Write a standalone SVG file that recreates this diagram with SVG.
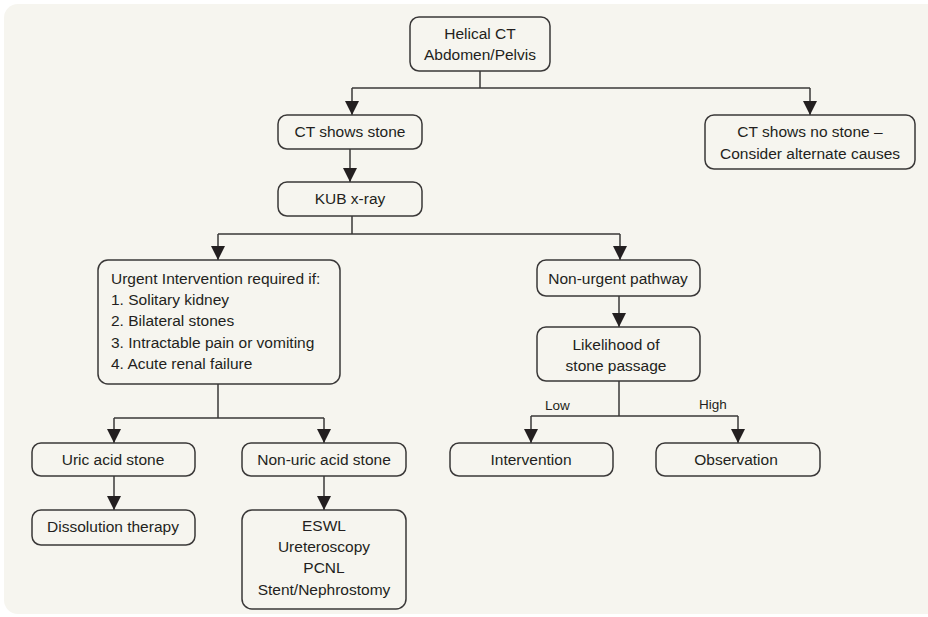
<svg xmlns="http://www.w3.org/2000/svg" width="928" height="617" viewBox="0 0 928 617">
<defs>
<marker id="ah" markerUnits="userSpaceOnUse" markerWidth="14" markerHeight="16" viewBox="0 0 14 16" refX="14" refY="7" orient="auto">
<path d="M0,0 L14,7 L0,14 Z" fill="#231f20"/>
</marker>
</defs>
<style>
.bg{fill:#f6f5ef}
.box{fill:#f6f5ef;stroke:#3a3838;stroke-width:1.5}
.t{font-family:"Liberation Sans Narrow","Liberation Sans",Arial,sans-serif;font-size:15.5px;fill:#231f20}
.c{text-anchor:middle}
.s{font-size:13.5px}
.ln{fill:none;stroke:#3a3838;stroke-width:1.5}
</style>
<rect width="928" height="617" fill="#ffffff"/>
<rect class="bg" x="4" y="4" width="940" height="610" rx="14"/>
<g id="connectors">
<path class="ln" d="M480,71 V88"/>
<path class="ln" d="M352,88 H810"/>
<path class="ln" d="M352,88 V115" marker-end="url(#ah)"/>
<path class="ln" d="M810,88 V115" marker-end="url(#ah)"/>
<path class="ln" d="M350,149 V182" marker-end="url(#ah)"/>
<path class="ln" d="M352,216 V234 M218,234 H620"/>
<path class="ln" d="M218,234 V260" marker-end="url(#ah)"/>
<path class="ln" d="M620,234 V260" marker-end="url(#ah)"/>
<path class="ln" d="M619,296 V327" marker-end="url(#ah)"/>
<path class="ln" d="M619,381 V416 M531,416 H738"/>
<path class="ln" d="M531,416 V443" marker-end="url(#ah)"/>
<path class="ln" d="M738,416 V443" marker-end="url(#ah)"/>
<path class="ln" d="M218,384 V418 M114,418 H324"/>
<path class="ln" d="M114,418 V443" marker-end="url(#ah)"/>
<path class="ln" d="M324,418 V443" marker-end="url(#ah)"/>
<path class="ln" d="M114,476 V510" marker-end="url(#ah)"/>
<path class="ln" d="M324,476 V510" marker-end="url(#ah)"/>
<text class="t s" x="545" y="410">Low</text>
<text class="t s" x="699" y="409">High</text>
</g>
<g id="helical">
<rect class="box" x="410" y="17" width="140" height="54" rx="9"/>
<text class="t c" x="480" y="39">Helical CT</text>
<text class="t c" x="480" y="60">Abdomen/Pelvis</text>
</g>
<g id="stone">
<rect class="box" x="278" y="115" width="144" height="34" rx="9"/>
<text class="t c" x="350" y="137">CT shows stone</text>
</g>
<g id="nostone">
<rect class="box" x="705" y="115" width="210" height="54" rx="9"/>
<text class="t c" x="810" y="137">CT shows no stone –</text>
<text class="t c" x="810" y="159">Consider alternate causes</text>
</g>
<g id="kub">
<rect class="box" x="278" y="182" width="144" height="34" rx="9"/>
<text class="t c" x="350" y="204">KUB x-ray</text>
</g>
<g id="urgent">
<rect class="box" x="98" y="260" width="242" height="124" rx="10"/>
<text class="t" x="111" y="284">Urgent Intervention required if:</text>
<text class="t" x="111" y="305">1. Solitary kidney</text>
<text class="t" x="111" y="326">2. Bilateral stones</text>
<text class="t" x="111" y="348">3. Intractable pain or vomiting</text>
<text class="t" x="111" y="369">4. Acute renal failure</text>
</g>
<g id="nonurgent">
<rect class="box" x="537" y="260" width="163" height="36" rx="9"/>
<text class="t c" x="618" y="284">Non-urgent pathway</text>
</g>
<g id="likelihood">
<rect class="box" x="537" y="327" width="163" height="54" rx="9"/>
<text class="t c" x="616" y="350">Likelihood of</text>
<text class="t c" x="616" y="371">stone passage</text>
</g>
<g id="intervention">
<rect class="box" x="450" y="443" width="163" height="33" rx="9"/>
<text class="t c" x="531" y="465">Intervention</text>
</g>
<g id="observation">
<rect class="box" x="656" y="443" width="164" height="33" rx="9"/>
<text class="t c" x="736" y="465">Observation</text>
</g>
<g id="uric">
<rect class="box" x="32" y="443" width="163" height="33" rx="9"/>
<text class="t c" x="113" y="465">Uric acid stone</text>
</g>
<g id="nonuric">
<rect class="box" x="242" y="443" width="164" height="33" rx="9"/>
<text class="t c" x="324" y="465">Non-uric acid stone</text>
</g>
<g id="dissolution">
<rect class="box" x="32" y="510" width="163" height="35" rx="9"/>
<text class="t c" x="113" y="532">Dissolution therapy</text>
</g>
<g id="eswl">
<rect class="box" x="242" y="510" width="164" height="99" rx="10"/>
<text class="t c" x="324" y="531">ESWL</text>
<text class="t c" x="324" y="552">Ureteroscopy</text>
<text class="t c" x="324" y="573">PCNL</text>
<text class="t c" x="324" y="595">Stent/Nephrostomy</text>
</g>
</svg>
